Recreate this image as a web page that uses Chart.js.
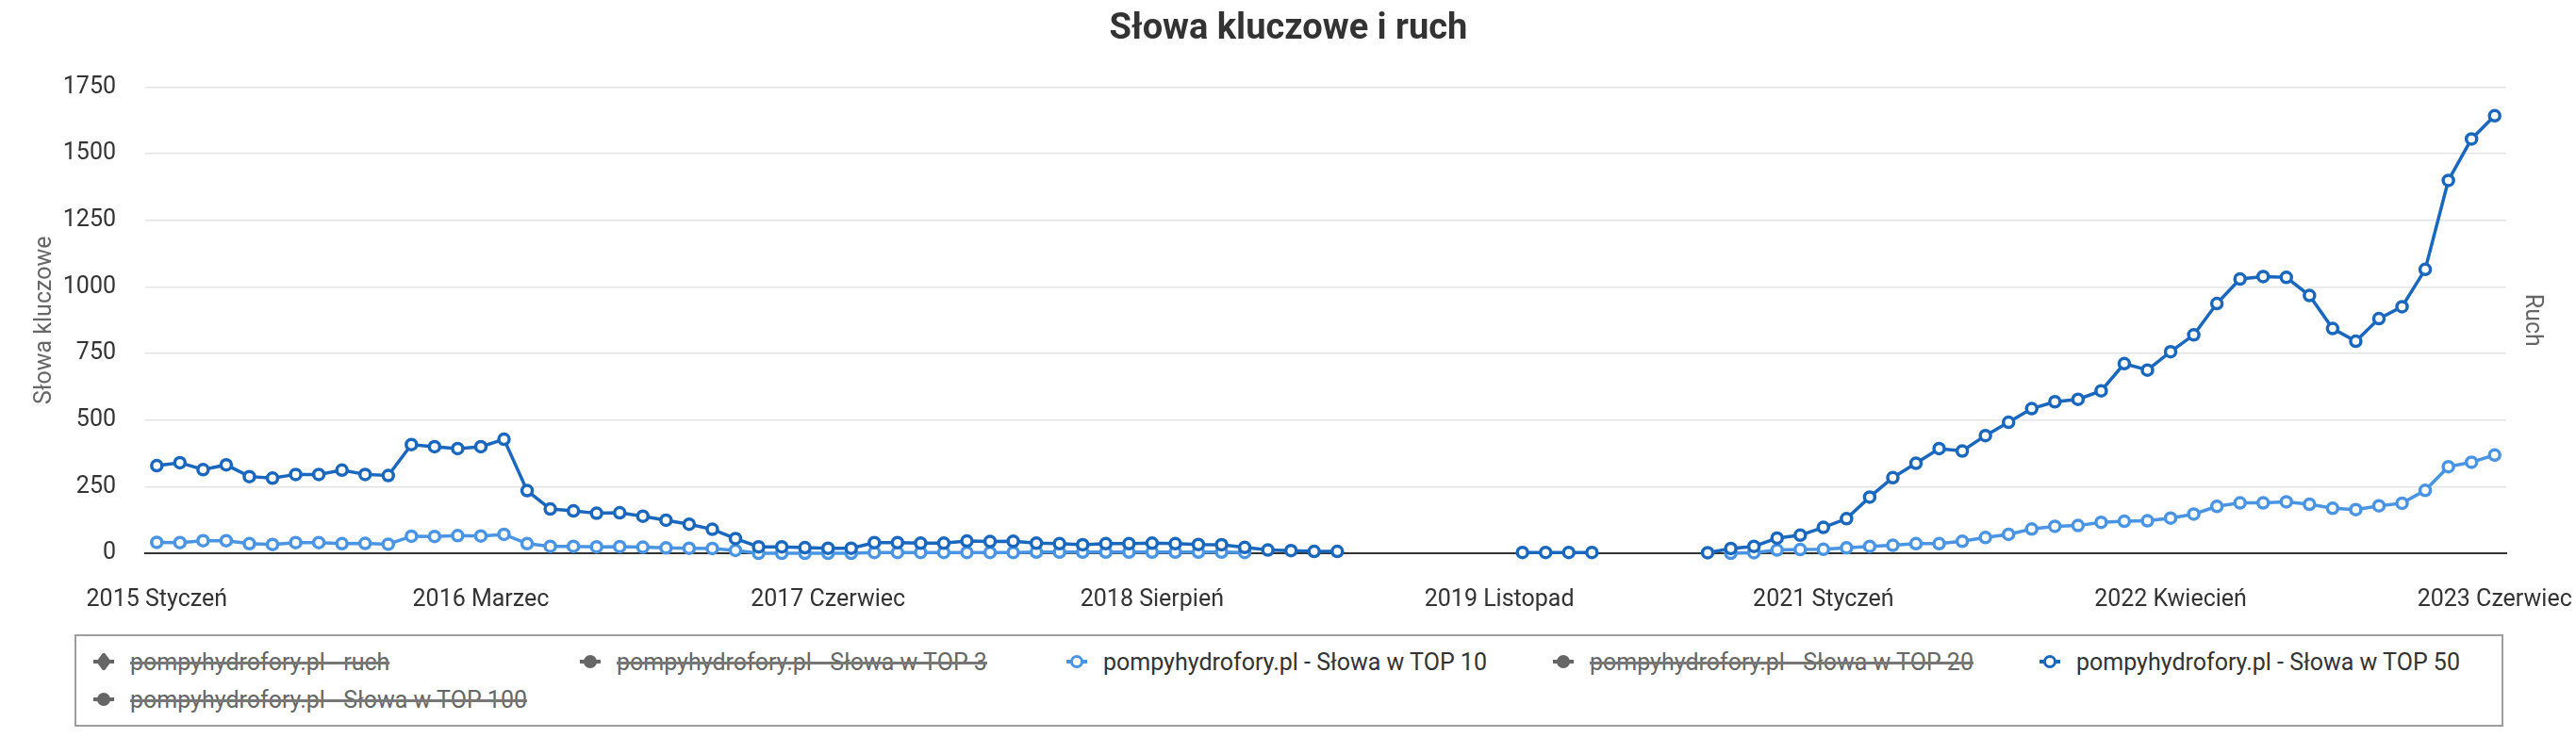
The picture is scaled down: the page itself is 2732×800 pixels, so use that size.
<!DOCTYPE html>
<html lang="pl">
<head>
<meta charset="utf-8">
<title>Słowa kluczowe i ruch</title>
<script src="https://cdn.jsdelivr.net/npm/chart.js@4.4.0/dist/chart.umd.min.js"></script>
<style>
  html, body { margin: 0; padding: 0; background: #fff; }
  body { width: 2732px; height: 800px; overflow: hidden; font-family: Roboto, sans-serif; }
  #chartBox { position: relative; width: 2732px; height: 660px; }
  #legend {
    box-sizing: border-box;
    margin: 13px 0 0 79px;
    width: 2576px;
    height: 98px;
    border: 2px solid #9e9e9e;
    padding: 7px 0 7px 17px;
    display: grid;
    grid-template-columns: repeat(5, 516px);
    grid-auto-rows: 40px;
  }
  .item {
    display: flex;
    align-items: center;
    font-size: 25px;
    color: #333;
    white-space: nowrap;
    cursor: pointer;
  }
  .item svg { margin-right: 16px; flex: none; }
  .item.off span {
    color: #666;
    text-decoration: line-through;
    text-decoration-thickness: 3px;
    text-decoration-color: #777;
  }
</style>
</head>
<body>
<div id="chartBox"><canvas id="myChart"></canvas></div>
<div id="legend"></div>
<script>
// kategorie: miesiące od 2015 Styczeń do 2023 Czerwiec
const months = ["Styczeń", "Luty", "Marzec", "Kwiecień", "Maj", "Czerwiec",
  "Lipiec", "Sierpień", "Wrzesień", "Październik", "Listopad", "Grudzień"];
const firstYear = 2015;
const lastYear = 2023;
const lastMonth = 6;

const tickLabels = [
  "2015 Styczeń",
  "2016 Marzec",
  "2017 Czerwiec",
  "2018 Sierpień",
  "2019 Listopad",
  "2021 Styczeń",
  "2022 Kwiecień",
  "2023 Czerwiec"
];

// ukryte serie - brak widocznych danych
const traffic = [];
const top3 = [];
const top20 = [];
const top100 = [];

const top10 = [
  41, 40, 47, 47, 36, 33, 40, 40, 36, 37, 34, 64,
  63, 66, 65, 71, 36, 26, 26, 24, 25, 23, 20, 19,
  18, 11, 0, 0, 0, 0, 0, 3, 3, 3, 3, 3,
  3, 3, 4, 4, 4, 4, 4, 4, 4, 4, 4, 3,
  null, null, null, null, null, null, null, null, null, null, null, null,
  null, null, null, null, null, null, null, null, 0, 2, 12, 14,
  15, 20, 26, 30, 36, 36, 45, 59, 71, 91, 101, 104,
  116, 120, 122, 132, 147, 176, 189, 189, 193, 184, 169, 164,
  178, 188, 236, 325, 342, 369
];

const top50 = [
  329, 340, 314, 332, 288, 282, 296, 296, 312, 296, 292, 408,
  400, 393, 400, 428, 235, 166, 159, 150, 152, 139, 124, 109,
  90, 55, 24, 24, 21, 19, 19, 40, 40, 38, 38, 46,
  44, 45, 38, 36, 32, 36, 36, 38, 36, 33, 32, 22,
  12, 10, 7, 7, null, null, null, null, null, null, null, 3,
  3, 3, 3, null, null, null, null, 2, 18, 26, 57, 68,
  97, 130, 211, 284, 338, 393, 384, 442, 492, 543, 569, 578,
  610, 712, 688, 757, 820, 938, 1030, 1039, 1036, 968, 844, 796,
  881, 926, 1066, 1400, 1556, 1643
];

const labels = [];
for (let y = firstYear; y <= lastYear; y++) {
  for (let m = 0; m < 12; m++) {
    if (y === lastYear && m >= lastMonth) break;
    labels.push(y + " " + months[m]);
  }
}

Chart.defaults.font.family = "Roboto";
Chart.defaults.font.size = 25;
Chart.defaults.color = "#333";

function line(label, data, color, extra) {
  return Object.assign({
    label: label,
    data: data,
    borderColor: color,
    backgroundColor: color,
    pointBackgroundColor: "#fff",
    pointBorderColor: color,
    borderWidth: 3.5,
    pointRadius: 5.5,
    pointBorderWidth: 3.5,
    pointHoverRadius: 7,
    tension: 0,
    spanGaps: false,
    clip: false,
    order: 1
  }, extra || {});
}

const datasets = [
  line("pompyhydrofory.pl - ruch", traffic, "#e8710a", { yAxisID: "y1", pointStyle: "rectRot", hidden: true }),
  line("pompyhydrofory.pl - Słowa w TOP 3", top3, "#0b3d7a", { hidden: true }),
  line("pompyhydrofory.pl - Słowa w TOP 10", top10, "#4a95e3"),
  line("pompyhydrofory.pl - Słowa w TOP 20", top20, "#2f7fd0", { hidden: true }),
  line("pompyhydrofory.pl - Słowa w TOP 50", top50, "#1a67be", { order: 0 }),
  line("pompyhydrofory.pl - Słowa w TOP 100", top100, "#7fb5ea", { hidden: true })
];

const ctx = document.getElementById("myChart");
const chart = new Chart(ctx, {
  type: "line",
  data: { labels: labels, datasets: datasets },
  options: {
    responsive: true,
    maintainAspectRatio: false,
    animation: false,
    layout: { padding: { top: 0, left: 29, right: 28, bottom: 8 } },
    interaction: { mode: "index", intersect: false },
    plugins: {
      legend: { display: false },
      title: {
        display: true,
        text: "Słowa kluczowe i ruch",
        color: "#333",
        font: { size: 38, weight: "bold" },
        padding: { top: 9, bottom: 38 }
      }
    },
    scales: {
      x: {
        offset: true,
        grid: { display: false, drawTicks: true, tickLength: 35 },
        border: { display: true, color: "#333", width: 2 },
        ticks: {
          autoSkip: false,
          maxRotation: 0,
          minRotation: 0,
          padding: 0,
          callback: function (value) {
            const l = this.getLabelForValue(value);
            return tickLabels.includes(l) ? l : "";
          }
        }
      },
      y: {
        min: 0,
        max: 1750,
        afterFit: function (scale) { scale.width = 125; },
        ticks: {
          stepSize: 250,
          padding: 31,
          callback: function (value) { return String(value); }
        },
        grid: { color: "#e4e4e4", lineWidth: 1.5, drawTicks: false },
        border: { display: false },
        title: { display: true, text: "Słowa kluczowe", color: "#666" }
      },
      y1: {
        position: "right",
        min: 0,
        grid: { display: false },
        border: { display: false },
        ticks: { display: false },
        title: { display: true, text: "Ruch", color: "#666" }
      }
    }
  }
});

function icon(ds, visible) {
  const ns = "http://www.w3.org/2000/svg";
  const svg = document.createElementNS(ns, "svg");
  svg.setAttribute("width", "24");
  svg.setAttribute("height", "18");
  const color = visible ? ds.borderColor : "#666";
  const ln = document.createElementNS(ns, "line");
  ln.setAttribute("x1", "1"); ln.setAttribute("x2", "23");
  ln.setAttribute("y1", "9"); ln.setAttribute("y2", "9");
  ln.setAttribute("stroke", color);
  ln.setAttribute("stroke-width", "4");
  svg.appendChild(ln);
  let mark;
  if (ds.pointStyle === "rectRot") {
    mark = document.createElementNS(ns, "polygon");
    mark.setAttribute("points", "12,1 18,9 12,17 6,9");
  } else {
    mark = document.createElementNS(ns, "circle");
    mark.setAttribute("cx", "12"); mark.setAttribute("cy", "9"); mark.setAttribute("r", "5.5");
  }
  mark.setAttribute("fill", visible ? "#fff" : color);
  mark.setAttribute("stroke", color);
  mark.setAttribute("stroke-width", "3");
  svg.appendChild(mark);
  return svg;
}

function buildLegend() {
  const box = document.getElementById("legend");
  box.innerHTML = "";
  chart.data.datasets.forEach(function (ds, i) {
    const visible = chart.isDatasetVisible(i);
    const item = document.createElement("div");
    item.className = "item" + (visible ? "" : " off");
    item.appendChild(icon(ds, visible));
    const span = document.createElement("span");
    span.textContent = ds.label;
    item.appendChild(span);
    item.addEventListener("click", function () {
      chart.setDatasetVisibility(i, !chart.isDatasetVisible(i));
      chart.update();
      buildLegend();
    });
    box.appendChild(item);
  });
}

buildLegend();
</script>
</body>
</html>
